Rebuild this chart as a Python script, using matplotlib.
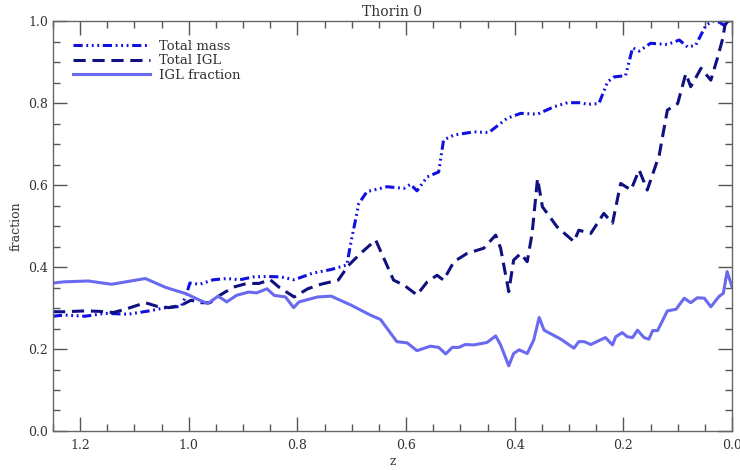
import matplotlib
matplotlib.use("Agg")
import matplotlib.pyplot as plt
from matplotlib.ticker import MultipleLocator

# ---- data ----
z_mass = [1.25, 1.229, 1.191, 1.154, 1.111, 1.073, 1.042, 1.014, 1.005, 0.998,
          0.980, 0.955, 0.930, 0.906, 0.881, 0.856, 0.831, 0.806, 0.772, 0.738,
          0.709, 0.703, 0.687, 0.672, 0.635, 0.604, 0.592, 0.580, 0.561, 0.540,
          0.531, 0.512, 0.475, 0.448, 0.414, 0.389, 0.358, 0.328, 0.303, 0.279,
          0.266, 0.245, 0.229, 0.217, 0.196, 0.183, 0.171, 0.150, 0.119, 0.097,
          0.082, 0.067, 0.048, 0.036, 0.024, 0.015, 0.008, 0.0]
total_mass = [0.280, 0.283, 0.280, 0.287, 0.285, 0.293, 0.301, 0.304, 0.331, 0.361,
              0.358, 0.369, 0.372, 0.369, 0.376, 0.377, 0.376, 0.369, 0.385, 0.394,
              0.405, 0.450, 0.555, 0.584, 0.596, 0.592, 0.602, 0.586, 0.620, 0.632,
              0.710, 0.722, 0.730, 0.728, 0.763, 0.775, 0.773, 0.791, 0.801, 0.801,
              0.797, 0.799, 0.852, 0.864, 0.867, 0.935, 0.927, 0.946, 0.943, 0.954,
              0.937, 0.941, 0.990, 1.000, 0.998, 0.990, 1.000, 1.000]

z_igl = [1.250, 1.229, 1.191, 1.166, 1.139, 1.117, 1.080, 1.058, 1.036, 1.014,
         0.996, 0.977, 0.961, 0.943, 0.918, 0.893, 0.871, 0.850, 0.834, 0.806,
         0.781, 0.757, 0.725, 0.706, 0.684, 0.656, 0.623, 0.604, 0.580, 0.561,
         0.543, 0.531, 0.512, 0.488, 0.457, 0.435, 0.426, 0.411, 0.402, 0.389,
         0.377, 0.368, 0.358, 0.349, 0.322, 0.291, 0.282, 0.260, 0.236, 0.220,
         0.205, 0.186, 0.171, 0.156, 0.134, 0.119, 0.100, 0.085, 0.076, 0.057,
         0.039, 0.027, 0.017, 0.013, 0.008, 0.0]
total_igl = [0.291, 0.291, 0.293, 0.292, 0.289, 0.297, 0.313, 0.304, 0.301, 0.307,
             0.319, 0.313, 0.313, 0.331, 0.351, 0.360, 0.360, 0.369, 0.351, 0.327,
             0.347, 0.358, 0.368, 0.404, 0.433, 0.466, 0.368, 0.356, 0.332, 0.364,
             0.380, 0.368, 0.413, 0.433, 0.446, 0.478, 0.446, 0.340, 0.417, 0.433,
             0.413, 0.482, 0.616, 0.547, 0.498, 0.462, 0.490, 0.482, 0.531, 0.507,
             0.604, 0.588, 0.637, 0.588, 0.673, 0.783, 0.799, 0.872, 0.840, 0.885,
             0.856, 0.909, 0.958, 0.990, 1.000, 1.000]

z_frac = [1.250, 1.229, 1.185, 1.142, 1.080, 1.042, 1.005, 0.980, 0.965, 0.946,
          0.930, 0.912, 0.890, 0.875, 0.856, 0.843, 0.822, 0.807, 0.797, 0.763,
          0.738, 0.701, 0.666, 0.647, 0.617, 0.598, 0.580, 0.555, 0.540, 0.527,
          0.515, 0.503, 0.491, 0.475, 0.451, 0.435, 0.426, 0.411, 0.402, 0.392,
          0.377, 0.365, 0.355, 0.346, 0.315, 0.291, 0.282, 0.272, 0.260, 0.233,
          0.220, 0.214, 0.202, 0.193, 0.183, 0.174, 0.162, 0.153, 0.146, 0.137,
          0.119, 0.103, 0.088, 0.076, 0.064, 0.051, 0.039, 0.024, 0.016, 0.009, 0.0]
igl_fraction = [0.361, 0.364, 0.366, 0.358, 0.372, 0.350, 0.335, 0.319, 0.311, 0.329,
                0.315, 0.331, 0.339, 0.337, 0.347, 0.331, 0.327, 0.301, 0.315, 0.327,
                0.329, 0.307, 0.283, 0.272, 0.218, 0.215, 0.196, 0.207, 0.204, 0.188,
                0.204, 0.204, 0.211, 0.210, 0.216, 0.232, 0.210, 0.159, 0.189, 0.198,
                0.189, 0.222, 0.277, 0.246, 0.224, 0.202, 0.218, 0.218, 0.211, 0.228,
                0.210, 0.230, 0.240, 0.230, 0.228, 0.246, 0.228, 0.224, 0.245, 0.245,
                0.293, 0.297, 0.324, 0.313, 0.325, 0.324, 0.303, 0.328, 0.336, 0.389, 0.352]

labels = ["Total mass", "Total IGL", "IGL fraction"]
title = "Thorin 0"

# ---- plot ----
plt.rcParams['font.family'] = ['DejaVu Serif']
fig = plt.figure(figsize=(7.4, 4.7), dpi=100)
ax = fig.add_axes([0.0716, 0.083, 0.9176, 0.872])

ax.plot(z_mass, total_mass, color='#1010e0', lw=2.2,
        linestyle=(0, (3, 1.2, 0.6, 1.2, 0.6, 1.2, 0.6, 1.2)), label=labels[0])
ax.plot(z_igl, total_igl, color='#101080', lw=2.2,
        linestyle=(0, (4, 2.2)), label=labels[1])
ax.plot(z_frac, igl_fraction, color='#6a6af0', lw=2.2, linestyle='-', label=labels[2])

ax.set_xlim(1.25, 0.0)
ax.set_ylim(0.0, 1.0)
ax.xaxis.set_major_locator(MultipleLocator(0.2))
ax.xaxis.set_minor_locator(MultipleLocator(0.05))
ax.yaxis.set_major_locator(MultipleLocator(0.2))
ax.yaxis.set_minor_locator(MultipleLocator(0.05))
ax.tick_params(which='both', direction='in', top=True, right=True,
               color='#555555', labelsize=9, labelcolor='#333333')
ax.tick_params(which='major', length=10, width=1)
ax.tick_params(which='minor', length=5, width=1)
ax.tick_params(axis='x', pad=6)
for s in ax.spines.values():
    s.set_color('#666666')
    s.set_linewidth(1)

ax.set_xlabel('z', fontsize=9, color='#333333', labelpad=2)
ax.set_ylabel('fraction', fontsize=9, color='#333333', labelpad=4)
ax.set_title(title, fontsize=10, color='#333333', pad=4)

leg = ax.legend(loc='upper left', frameon=False, fontsize=9.5,
                handlelength=5.8, handletextpad=0.7, labelspacing=0.1,
                bbox_to_anchor=(0.012, 0.983), labelcolor='#333333')

fig.savefig('out.png', dpi=100)
